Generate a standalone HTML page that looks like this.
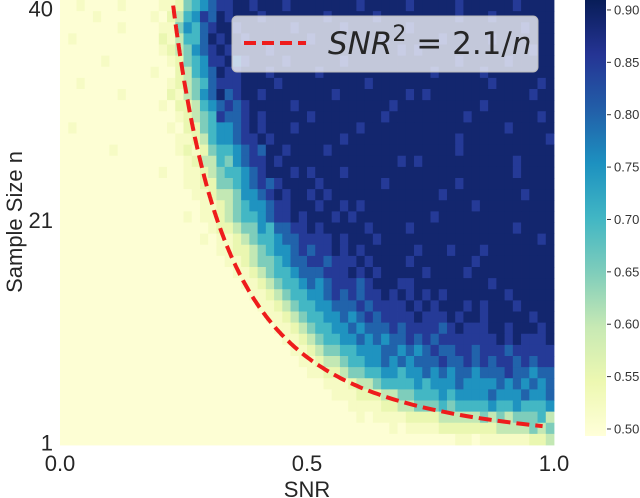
<!DOCTYPE html>
<html><head><meta charset="utf-8">
<style>
html,body{margin:0;padding:0;background:#fff;}
svg{display:block;font-family:"Liberation Sans",sans-serif;}
</style></head>
<body>
<svg id="chart" width="640" height="498" viewBox="0 0 640 498">
  <defs>
    <linearGradient id="cbgrad" x1="0" y1="1" x2="0" y2="0">
      <stop offset="0" stop-color="#ffffd9"/><stop offset="0.125" stop-color="#edf8b1"/>
      <stop offset="0.25" stop-color="#c7e9b4"/><stop offset="0.375" stop-color="#7fcdbb"/>
      <stop offset="0.5" stop-color="#41b6c4"/><stop offset="0.625" stop-color="#1d91c0"/>
      <stop offset="0.75" stop-color="#225ea8"/><stop offset="0.875" stop-color="#253494"/>
      <stop offset="1" stop-color="#081d58"/>
    </linearGradient>
  </defs>
  <g id="cells"></g>
  <g id="curve"></g>
  <g>
    <rect x="232" y="16" width="306" height="56" rx="5" fill="#ffffff" fill-opacity="0.75" stroke="#bbbbbb" stroke-width="1"/>
    <line x1="244" y1="43" x2="306" y2="43" stroke="#ee1c1c" stroke-width="4" stroke-dasharray="12,6"/>
    <text x="328" y="54" font-family="DejaVu Sans, sans-serif" font-style="italic" font-size="31" fill="#262626">SNR<tspan dy="-13" font-size="22" font-style="normal">2</tspan><tspan dy="13" font-style="normal"> = 2.1/</tspan>n</text>
  </g>
  <g id="yticks"></g>
  <g id="xticks"></g>
  <text x="307" y="497" text-anchor="middle" font-size="22" fill="#262626">SNR</text>
  <text transform="translate(22,222) rotate(-90)" text-anchor="middle" font-size="22" fill="#262626">Sample Size n</text>
  <g id="colorbar">
    <rect x="585" y="0" width="21" height="436" fill="url(#cbgrad)"/>
  </g>
</svg>
<script>
const levelValues = [0.50, 0.52, 0.55, 0.60, 0.65, 0.70, 0.75, 0.80, 0.85, 0.89];
// rows from n=40 (top) to n=1 (bottom), 60 SNR columns each, coded as level index
const gridRows = [
"001000010000112456788998999899999999899999899999899999989999",
"000010000001023568798999899999998999998999999999899989999999",
"000000010000114657899899999989999989999999899999999999998999",
"010000000000213557989989999999899999999899999989999989999999",
"000000000000123467898999989999999999999998989999999999999899",
"000001000000012456889789999899999989999999999999899999899999",
"000000000001002356798899989999989999999999999899999899999999",
"001000000000012345788899998999999999989999999999999989999989",
"000000010000021346797899899999999899999999898999999999999899",
"000000000000102235678789999989999999999989999999999899999999",
"000000000000001234587789899999899999999899999999989999999989",
"010000000000010224566789899989999999899999999999999999899999",
"000000000000001123566788989999999989999999999999899999999998",
"000000100000001212455678799899998999999999999999899999999999",
"000000000000000123354678898999999999999998989999999999989999999".slice(0,60),
"000000000000100112345567899989899989999999999999999999989999",
"000000000000000112244567878999989999999899999999899999999999",
"000000000000000011233466789899898999999999999989999999998999999".slice(0,60),
"000000000000000001123456678899989989899999999999998999999999",
"000000000000000101123455678898999898999999999899999999999999",
"000000000000000000122344657788989999989999899999999999989999",
"000000000000000001011234556778888989998999999999999999999989",
"000000000000000000011223456678788989899999989998999899999999999".slice(0,60),
"000000000000000000001123445677887888989999899999998999999999",
"000000000000000000000112345567778889898999998999989999999999",
"000000000000000000000011234556767888789998899999999989999999",
"000000000000000000000001123455667878788989898989999999899999",
"000000000000000000000000112345566777878888989899989899989999",
"000000000000000000000000011234556676787888898889899899999899",
"000000000000000000000000001123455667677787888878988899899989",
"000000000000000000000000000112345566767677878788888889898889",
"000000000000000000000000000011234455666776767877887888788888",
"000000000000000000000000000001123345566767677787787878878788",
"000000000000000000000000000000112234455665667676776777877677",
"000000000000000000000000000000001112334555565666766667676767",
"000000000000000000000000000000000111222334455565666676667667",
"000000000000000000000000000000000001111223344454555565565556",
"000000000000000000000000000000000000101111222233333434344453",
"000000000000000000000000000000000000000010111122222223333434",
"000000000000000000000000000000000000000000000000110111111223"
];
const nValues = [40,39,38,37,36,35,34,33,32,31,30,29,28,27,26,25,24,23,22,21,20,19,18,17,16,15,14,13,12,11,10,9,8,7,6,5,4,3,2,1];
const xTickValues = [0.0, 0.5, 1.0];
const xTickLabels = ["0.0", "0.5", "1.0"];
const yTickValues = [40, 21, 1];
const yTickLabels = ["40", "21", "1"];
const cbTickValues = [0.50, 0.55, 0.60, 0.65, 0.70, 0.75, 0.80, 0.85, 0.90];
const cbTickLabels = ["0.50", "0.55", "0.60", "0.65", "0.70", "0.75", "0.80", "0.85", "0.90"];
const curveConstant = 2.1;

const NS = "http://www.w3.org/2000/svg";
const X0 = 60, X1 = 554, Y0 = 0, Y1 = 445;
const nCols = 60, nRows = nValues.length;
const cw = (X1 - X0) / nCols, ch = (Y1 - Y0) / nRows;
const vmin = 0.4933, vmax = 0.9095;
const xScale = s => X0 + s * (X1 - X0);
const yScale = n => Y0 + (nValues[0] - n + 0.5) * ch;
const cbScale = v => 436 - (v - vmin) / (vmax - vmin) * 436;
const cmapStops = ["#ffffd9","#edf8b1","#c7e9b4","#7fcdbb","#41b6c4","#1d91c0","#225ea8","#253494","#081d58"];
function hex(h){return [1,3,5].map(i=>parseInt(h.substr(i,2),16));}
function cmap(v){
  let t = Math.max(0, Math.min(1, (v - vmin) / (vmax - vmin))) * (cmapStops.length - 1);
  let i = Math.min(Math.floor(t), cmapStops.length - 2), f = t - i;
  const a = hex(cmapStops[i]), b = hex(cmapStops[i+1]);
  return "rgb(" + a.map((c,k)=>Math.round(c + (b[k]-c)*f)).join(",") + ")";
}
const cells = document.getElementById("cells");
gridRows.forEach((row, r) => {
  for (let c = 0; c < Math.min(row.length, nCols); c++) {
    const v = levelValues[+row[c]];
    const rect = document.createElementNS(NS, "rect");
    
    
    rect.setAttribute("x", (xScale(c / nCols)).toFixed(2));
    rect.setAttribute("y", (yScale(nValues[r]) - ch / 2).toFixed(2));
    rect.setAttribute("width", (cw + 0.4).toFixed(2));
    rect.setAttribute("height", (ch + 0.4).toFixed(2));
    rect.setAttribute("fill", cmap(v));
    cells.appendChild(rect);
  }
});
const curveG = document.getElementById("curve");
let pts = [];
for (let n = nValues[0]; n >= curveConstant; n -= 0.1) {
  pts.push(xScale(Math.sqrt(curveConstant / n)).toFixed(1) + "," + yScale(n).toFixed(1));
}
const path = document.createElementNS(NS, "polyline");


path.setAttribute("points", pts.join(" "));
path.setAttribute("fill", "none");
path.setAttribute("stroke", "#ee1c1c");
path.setAttribute("stroke-width", "4");
path.setAttribute("stroke-dasharray", "13,6");
curveG.appendChild(path);
const xg = document.getElementById("xticks");
xTickValues.forEach((v, i) => {
  const t = document.createElementNS(NS, "text");
  
  
  t.setAttribute("x", xScale(v)); t.setAttribute("y", 471);
  t.setAttribute("text-anchor", "middle"); t.setAttribute("font-size", "22"); t.setAttribute("fill", "#262626");
  t.textContent = xTickLabels[i];
  xg.appendChild(t);
});
const yg = document.getElementById("yticks");
yTickValues.forEach((v, i) => {
  const t = document.createElementNS(NS, "text");
  
  
  t.setAttribute("x", 53); t.setAttribute("y", yScale(v) + 11);
  t.setAttribute("text-anchor", "end"); t.setAttribute("font-size", "22"); t.setAttribute("fill", "#262626");
  t.textContent = yTickLabels[i];
  yg.appendChild(t);
});
const cb = document.getElementById("colorbar");
cbTickValues.forEach((v, i) => {
  const y = cbScale(v);
  const l = document.createElementNS(NS, "line");
  
  
  l.setAttribute("x1", 607); l.setAttribute("x2", 611); l.setAttribute("y1", y); l.setAttribute("y2", y);
  l.setAttribute("stroke", "#333"); l.setAttribute("stroke-width", "1");
  cb.appendChild(l);
  const t = document.createElementNS(NS, "text");
  
  
  t.setAttribute("x", 614); t.setAttribute("y", y + 4.5);
  t.setAttribute("font-size", "13"); t.setAttribute("fill", "#333");
  t.textContent = cbTickLabels[i];
  cb.appendChild(t);
});
</script>
</body></html>
